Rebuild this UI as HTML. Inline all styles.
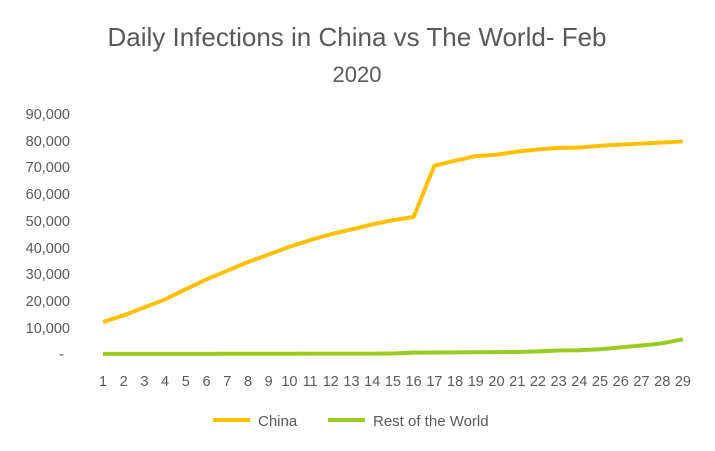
<!DOCTYPE html>
<html><head><meta charset="utf-8"><style>body{margin:0;background:#fff}svg{display:block}</style></head>
<body>
<svg width="715" height="451" xmlns="http://www.w3.org/2000/svg" font-family="Liberation Sans, sans-serif" fill="#595959">
<rect width="715" height="451" fill="#fff"/>
<text x="357" y="46" font-size="26" text-anchor="middle">Daily Infections in China vs The World- Feb</text>
<text x="357" y="82" font-size="22" text-anchor="middle">2020</text>
<g font-size="14.5" text-anchor="end">
<text x="70" y="119">90,000</text><text x="70" y="146">80,000</text><text x="70" y="172">70,000</text>
<text x="70" y="199">60,000</text><text x="70" y="226">50,000</text><text x="70" y="253">40,000</text>
<text x="70" y="279">30,000</text><text x="70" y="306">20,000</text><text x="70" y="333">10,000</text>
<text x="64" y="359">-</text>
</g>
<g font-size="14.5" text-anchor="middle">
<text x="103" y="386">1</text><text x="123.7" y="386">2</text><text x="144.4" y="386">3</text><text x="165.1" y="386">4</text><text x="185.8" y="386">5</text><text x="206.6" y="386">6</text><text x="227.3" y="386">7</text><text x="248" y="386">8</text><text x="268.7" y="386">9</text><text x="289.4" y="386">10</text><text x="310.1" y="386">11</text><text x="330.8" y="386">12</text><text x="351.5" y="386">13</text><text x="372.2" y="386">14</text><text x="392.9" y="386">15</text><text x="413.6" y="386">16</text><text x="434.4" y="386">17</text><text x="455.1" y="386">18</text><text x="475.8" y="386">19</text><text x="496.5" y="386">20</text><text x="517.2" y="386">21</text><text x="537.9" y="386">22</text><text x="558.6" y="386">23</text><text x="579.3" y="386">24</text><text x="600" y="386">25</text><text x="620.7" y="386">26</text><text x="641.5" y="386">27</text><text x="662.2" y="386">28</text><text x="682.9" y="386">29</text>
</g>
<polyline fill="none" stroke="#FFC000" stroke-width="4" stroke-linejoin="round" id="c"/>
<polyline fill="none" stroke="#9BCB22" stroke-width="4" stroke-linejoin="round" id="r"/>
<line x1="213" y1="420" x2="250" y2="420" stroke="#FFC000" stroke-width="4"/>
<text x="258" y="426" font-size="15">China</text>
<line x1="328" y1="420" x2="365" y2="420" stroke="#9BCB22" stroke-width="4"/>
<text x="373" y="426" font-size="15">Rest of the World</text>
<script>
var c=[12000,14500,17500,20500,24300,28000,31200,34500,37300,40200,42700,44900,46700,48600,50200,51400,70600,72500,74200,74700,75900,76700,77300,77400,78100,78500,78900,79300,79700];
var r=[50,50,50,50,60,70,80,90,100,110,120,130,140,150,200,500,550,600,650,700,750,1000,1300,1400,1800,2500,3200,4000,5500];
function X(i){return 103+i*20.71}function Y(v){return 354-v*0.002667}
document.getElementById('c').setAttribute('points',c.map((v,i)=>X(i)+','+Y(v)).join(' '));
document.getElementById('r').setAttribute('points',r.map((v,i)=>X(i)+','+Y(v)).join(' '));
</script>
</svg>
</body></html>
